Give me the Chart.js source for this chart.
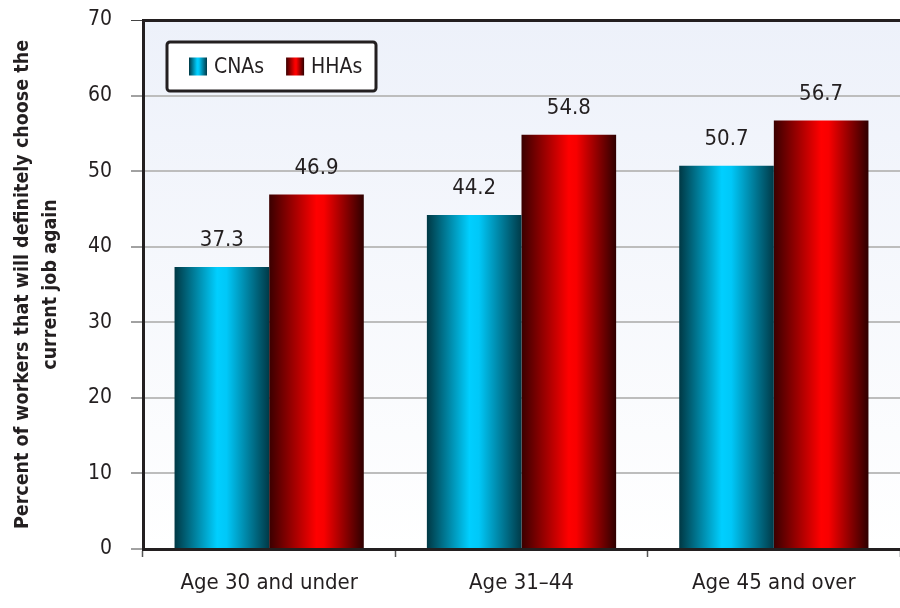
<!DOCTYPE html>
<html>
<head>
<meta charset="utf-8">
<script src="https://cdn.jsdelivr.net/npm/chart.js@4.4.1/dist/chart.umd.min.js"></script>
<style>
  html, body { margin: 0; padding: 0; background: #fff; }
  #wrap { width: 900px; height: 608px; }
</style>
</head>
<body>
<div id="wrap"><canvas id="c" width="900" height="608"></canvas></div>
<script>
const categories = ['Age 30 and under', 'Age 31\u201344', 'Age 45 and over'];
const cnaValues = [37.3, 44.2, 50.7];
const hhaValues = [46.9, 54.8, 56.7];
const seriesNames = ['CNAs', 'HHAs'];
const yTitle = ['Percent of workers that will definitely choose the', 'current job again'];

const FONT = '"DejaVu Sans Condensed", "Liberation Sans Narrow", sans-serif';
const INK = '#231f20';

// edge-dark / centre-bright horizontal gradients
const GRADS = [
  [[0, '#003844'], [0.45, '#00cfff'], [0.55, '#00c8f8'], [1, '#003a48']],
  [[0, '#3a0000'], [0.5, '#ff0000'], [0.58, '#f80000'], [1, '#2e0000']],
];

function hGrad(ctx, x0, x1, stops) {
  const g = ctx.createLinearGradient(x0, 0, x1, 0);
  stops.forEach(s => g.addColorStop(s[0], s[1]));
  return g;
}

const shading = {
  id: 'shading',
  beforeDraw(chart) {
    const { ctx, chartArea: a } = chart;
    const g = ctx.createLinearGradient(0, a.top, 0, a.bottom);
    g.addColorStop(0, '#edf1fa');
    g.addColorStop(1, '#ffffff');
    ctx.save();
    ctx.fillStyle = g;
    ctx.fillRect(a.left, a.top, a.right - a.left, a.bottom - a.top);
    ctx.restore();
  },
  beforeDatasetsDraw(chart) {
    chart.data.datasets.forEach((ds, i) => {
      chart.getDatasetMeta(i).data.forEach(el => {
        const g = hGrad(chart.ctx, el.x - el.width / 2, el.x + el.width / 2, GRADS[i]);
        el.options = Object.assign({}, el.options, { backgroundColor: g });
      });
    });
  },
  afterDatasetsDraw(chart) {
    const ctx = chart.ctx;
    ctx.save();
    ctx.font = '22px ' + FONT;
    ctx.fillStyle = INK;
    ctx.textAlign = 'center';
    ctx.textBaseline = 'alphabetic';
    chart.data.datasets.forEach((ds, i) => {
      chart.getDatasetMeta(i).data.forEach((el, j) => {
        ctx.fillText(ds.data[j].toFixed(1), el.x, el.y - 21);
      });
    });
    ctx.restore();
  },
  afterDraw(chart) {
    const { ctx, chartArea: a } = chart;
    const bx = a.left + 24, by = a.top + 22, bw = 209, bh = 49;
    ctx.save();
    ctx.beginPath();
    ctx.roundRect(bx, by, bw, bh, 3);
    ctx.fillStyle = '#fff';
    ctx.fill();
    ctx.lineWidth = 3;
    ctx.strokeStyle = INK;
    ctx.stroke();
    ctx.font = '21px ' + FONT;
    ctx.textBaseline = 'middle';
    ctx.fillStyle = INK;
    let x = bx + 22;
    const cy = by + bh / 2;
    chart.data.datasets.forEach((ds, i) => {
      ctx.fillStyle = hGrad(ctx, x, x + 18, GRADS[i]);
      ctx.fillRect(x, cy - 9, 18, 18);
      ctx.fillStyle = INK;
      ctx.fillText(ds.label, x + 25, cy + 1);
      x += 25 + ctx.measureText(ds.label).width + 22;
    });
    ctx.restore();
  }
};

new Chart(document.getElementById('c'), {
  type: 'bar',
  data: {
    labels: categories,
    datasets: [
      { label: seriesNames[0], data: cnaValues, backgroundColor: '#00c8f8', borderWidth: 0 },
      { label: seriesNames[1], data: hhaValues, backgroundColor: '#ff0000', borderWidth: 0 },
    ],
  },
  options: {
    responsive: false,
    animation: false,
    devicePixelRatio: 1,
    layout: { padding: { top: 20, right: -8, left: 0, bottom: 0 } },
    categoryPercentage: 0.75,
    barPercentage: 1,
    plugins: { legend: { display: false }, tooltip: { enabled: false } },
    scales: {
      x: {
        afterFit: s => { s.height = 59; s.paddingLeft = 0; s.paddingRight = 0; },
        border: { color: INK, width: 3 },
        grid: { offset: true, drawOnChartArea: false, drawTicks: true, tickLength: 8, tickColor: '#555', tickWidth: 1.5 },
        ticks: { color: INK, padding: 13, font: { family: FONT, size: 22 } },
      },
      y: {
        min: 0, max: 70,
        afterFit: s => { s.width = 143; s.paddingTop = 0; s.paddingBottom = 0; },
        border: { color: INK, width: 3 },
        grid: {
          color: c => c.tick.value === 70 ? INK : '#bdbdbd',
          lineWidth: c => c.tick.value === 70 ? 3 : 2,
          tickColor: '#444', tickWidth: 1, tickLength: 12,
        },
        ticks: { stepSize: 10, color: INK, padding: 19, font: { family: FONT, size: 21 } },
        title: {
          display: true, text: yTitle, color: INK, padding: { top: 9, bottom: 0 },
          font: { family: FONT, size: 19.5, weight: 'bold', lineHeight: 1.45 },
        },
      },
    },
  },
  plugins: [shading],
});
</script>
</body>
</html>
